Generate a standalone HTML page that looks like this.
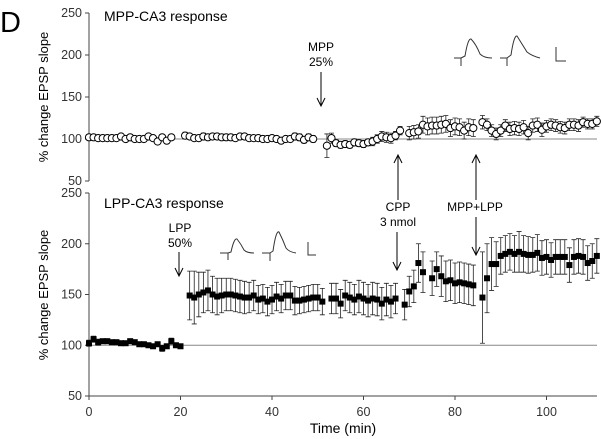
<!DOCTYPE html>
<html><head><meta charset="utf-8"><style>
body{margin:0;background:#fff;}
svg{display:block;font-family:"Liberation Sans",sans-serif;}
</style></head><body>
<svg id="chart" width="601" height="439" viewBox="0 0 601 439" xmlns="http://www.w3.org/2000/svg">
<text x="0" y="32" font-size="29">D</text>
<g id="top"></g>
<g id="bot"></g>
<text x="104" y="21" font-size="14">MPP-CA3 response</text>
<text x="104" y="208" font-size="14">LPP-CA3 response</text>
<text transform="translate(48,97) rotate(-90)" text-anchor="middle" font-size="13">% change EPSP slope</text>
<text transform="translate(48,295) rotate(-90)" text-anchor="middle" font-size="13">% change EPSP slope</text>
<text x="343" y="433" text-anchor="middle" font-size="14">Time (min)</text>
<g font-size="12" text-anchor="middle" stroke-width="1">
<text x="321" y="51">MPP</text><text x="321" y="66">25%</text>
<line x1="321" y1="72" x2="321" y2="106" stroke="#000"/><path d="M317,98 L321,106 L325,98" fill="none" stroke="#000"/>
<line x1="398" y1="200" x2="398" y2="155" stroke="#000"/><path d="M394,163 L398,155 L402,163" fill="none" stroke="#000"/>
<text x="398" y="211">CPP</text><text x="398" y="226">3 nmol</text>
<line x1="397" y1="232" x2="397" y2="270" stroke="#000"/><path d="M393,262 L397,270 L401,262" fill="none" stroke="#000"/>
<line x1="476" y1="200" x2="476" y2="155" stroke="#000"/><path d="M472,163 L476,155 L480,163" fill="none" stroke="#000"/>
<text x="475" y="211">MPP+LPP</text>
<line x1="476" y1="217" x2="476" y2="255" stroke="#000"/><path d="M472,247 L476,255 L480,247" fill="none" stroke="#000"/>
<text x="180" y="232">LPP</text><text x="180" y="247">50%</text>
<line x1="179" y1="252" x2="179" y2="276" stroke="#000"/><path d="M175,268 L179,276 L183,268" fill="none" stroke="#000"/>
</g>
<g fill="none" stroke="#333" stroke-width="1">
<path d="M454,58 L461,58 L461,66 M461,58 L465,56 Q468,38 471,39 Q476,44 480,54 Q484,58 492,58"/>
<path d="M500,58 L507,58 L507,66 M507,58 L511,55 Q514,35 517,36 Q522,44 527,52 Q532,56 540,58"/>
<path d="M556,47 L556,61 L566,61"/>
<path d="M220,253 L228,253 L228,260 M228,253 L231,252 Q234,238 237,239 Q241,244 244,250 Q247,253 254,253"/>
<path d="M262,253 L270,253 L270,261 M270,253 L273,251 Q276,230 279,232 Q283,240 286,248 Q289,252 296,253"/>
<path d="M308,242 L308,255 L316,255"/>
</g>
</svg>
<script>
// Top panel (MPP-CA3), open circles
const topTimes=[0,1,2,3,4,5,6,7,8,9,10,11,12,13,14,15,16,17,18,
21,22,23,24,25,26,27,28,29,30,31,32,33,34,35,36,37,38,39,40,41,42,43,44,45,46,47,48,49,
52,53,54,55,56,57,58,59,60,61,62,63,64,65,66,67,68,
70,71,72,73,74,75,76,77,78,79,80,81,82,83,84,
86,87,88,89,90,91,92,93,94,95,96,97,98,99,100,101,102,103,104,105,106,107,108,109,110,111];
const topValues=[102,102,101,101,101,101,101,103,100,102,100,100,100,103,101,97,102,98,102,
104,103,101,101,103,102,103,103,102,102,102,101,103,103,101,101,101,100,100,101,100,98,100,100,103,102,99,102,100,
92,101,95,93,94,93,96,95,94,96,97,100,103,102,101,104,110,
107,108,109,117,115,116,116,117,118,113,115,114,110,114,113,
120,117,110,106,110,116,112,113,112,114,107,116,117,111,115,117,116,114,113,117,117,116,120,118,118,121];
const topErrors=[2,2,2,2,2,2,2,2,2,2,2,2,2,2,2,3,2,3,2,
4,3,3,3,4,3,3,3,3,3,3,3,3,3,3,3,3,3,3,3,3,3,3,3,4,4,4,4,4,
14,6,4,4,4,4,4,4,4,4,5,5,6,6,6,5,5,
8,8,8,10,10,10,10,10,10,10,10,10,10,10,10,
8,7,7,7,7,7,8,8,8,8,8,8,8,8,7,7,7,7,7,7,7,7,6,6,6,6];
// Bottom panel (LPP-CA3), filled squares
const botTimes=[0,1,2,3,4,5,6,7,8,9,10,11,12,13,14,15,16,17,18,19,20,
22,23,24,25,26,27,28,29,30,31,32,33,34,35,36,37,38,39,40,41,42,43,44,45,46,47,48,49,50,51,
53,54,55,56,57,58,59,60,61,62,63,64,65,66,67,
69,70,71,72,73,75,76,77,78,79,80,81,82,83,84,
86,87,88,89,90,91,92,93,94,95,96,97,98,99,100,101,102,103,104,105,106,107,108,109,110,111];
const botValues=[102,106,103,104,104,103,103,102,102,104,103,101,101,100,99,101,97,99,104,100,99,
149,147,150,152,154,150,148,149,150,150,149,148,147,147,149,145,146,143,145,148,146,149,149,144,144,145,146,147,147,143,
146,146,141,149,147,145,148,146,144,146,145,141,145,143,146,
140,153,158,181,172,166,175,168,163,164,161,162,161,160,159,
147,166,180,180,188,190,192,190,192,190,189,189,191,186,187,184,187,187,187,179,187,188,187,181,183,188];
const botErrors=[3,3,3,2,2,2,2,2,2,2,2,2,2,2,2,2,3,2,3,2,2,
24,26,22,20,20,18,18,17,16,16,16,16,16,15,15,14,14,14,14,14,14,14,14,14,13,13,13,13,13,13,
15,15,14,15,15,15,16,16,16,16,16,16,16,16,15,
15,15,16,19,20,17,17,20,20,20,20,20,20,20,20,
45,34,26,22,18,18,18,18,20,18,18,17,18,17,17,17,17,17,17,17,17,17,17,17,17,17];
const xTicks=[0,20,40,60,80,100];
const yTicks=[50,100,150,200,250];

const NS='http://www.w3.org/2000/svg';
function mk(tag,attrs,parent){const e=document.createElementNS(NS,tag);for(const k in attrs)e.setAttribute(k,attrs[k]);parent.appendChild(e);return e;}
const X0=89,X1=597;
function xs(t){return X0+t*4.575;}

function panel(g,yTop,yBot,times,values,errors,filled,showX){
  const ys=v=>yBot-(v-50)/200*(yBot-yTop);
  const ax=mk('g',{},g);
  
  
  mk('line',{x1:X0,y1:yTop,x2:X0,y2:yBot,stroke:'#444','stroke-width':1},ax);
  yTicks.forEach(v=>{
    mk('line',{x1:X0-4,y1:ys(v),x2:X0,y2:ys(v),stroke:'#444'},ax);
    const t=mk('text',{x:X0-7,y:ys(v)+4,'text-anchor':'end','font-size':12.5,fill:'#333'},ax);
    
    
    t.textContent=v;
  });
  const ref=mk('line',{x1:X0,y1:ys(100),x2:X1,y2:ys(100),stroke:'#888','stroke-width':1},g);
  
  
  if(showX){
    const xa=mk('g',{},g);
    
    
    mk('line',{x1:X0,y1:yBot,x2:X1,y2:yBot,stroke:'#444'},xa);
    xTicks.forEach(v=>{
      mk('line',{x1:xs(v),y1:yBot,x2:xs(v),y2:yBot+4,stroke:'#444'},xa);
      const t=mk('text',{x:xs(v),y:yBot+20,'text-anchor':'middle','font-size':12.5,fill:'#333'},xa);
      
      
      t.textContent=v;
    });
  }
  times.forEach((t,i)=>{
    const x=xs(t),y=ys(values[i]),ye=ys(values[i]+errors[i]),yl=ys(values[i]-errors[i]);
    const eb=mk('path',{d:`M${x},${yl} L${x},${ye} M${x-2.5},${ye} L${x+2.5},${ye} M${x-2.5},${yl} L${x+2.5},${yl}`,stroke:'#222','stroke-width':0.8,fill:'none'},g);
    
    
    let m;
    if(filled){m=mk('rect',{x:x-3,y:y-3,width:6,height:6,fill:'#000'},g);}
    else{m=mk('circle',{cx:x,cy:y,r:3.6,fill:'#fff',stroke:'#000','stroke-width':1},g);}
    
    
  });
}
panel(document.getElementById('top'),13,181,topTimes,topValues,topErrors,false,false);
panel(document.getElementById('bot'),193,396,botTimes,botValues,botErrors,true,true);
</script>
</body></html>
